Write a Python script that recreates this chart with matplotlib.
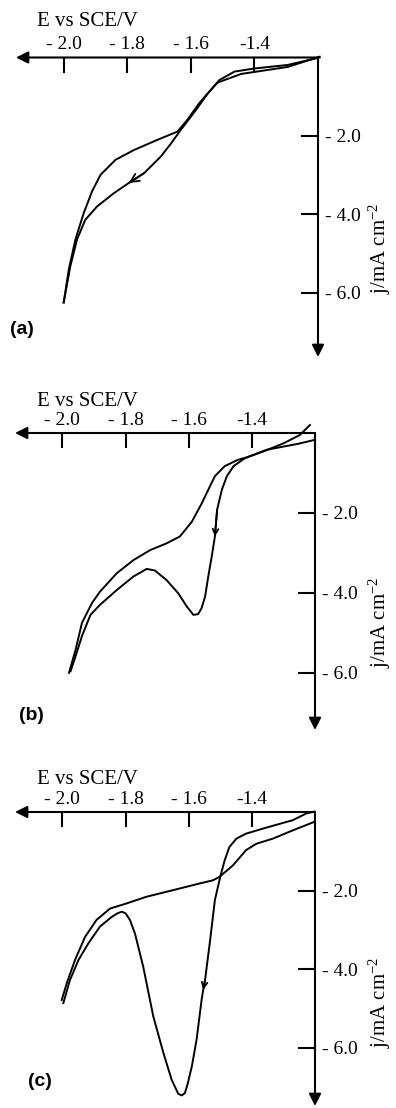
import matplotlib
matplotlib.use("Agg")
import matplotlib.pyplot as plt

plt.rcParams['font.family'] = ['Liberation Serif', 'DejaVu Serif']
plt.rcParams['mathtext.fontset'] = 'custom'
plt.rcParams['mathtext.rm'] = 'Liberation Serif'
plt.rcParams['mathtext.it'] = 'Liberation Serif:italic'

# potentials (V vs SCE) and current densities (mA cm-2)
Ea_fwd = [-1.195, -1.295, -1.442, -1.516, -1.547, -1.584, -1.632, -1.663, -1.695,
          -1.747, -1.795, -1.842, -1.895, -1.932, -1.958, -1.979, -2.0]
ja_fwd = [0.02, -0.24, -0.42, -0.64, -0.92, -1.34, -1.85, -2.20, -2.53,
          -2.95, -3.20, -3.46, -3.80, -4.14, -4.64, -5.32, -6.25]
Ea_rev = [-2.0, -1.984, -1.963, -1.937, -1.911, -1.884, -1.837, -1.779, -1.705,
          -1.642, -1.611, -1.574, -1.542, -1.511, -1.463, -1.4, -1.295, -1.195]
ja_rev = [-6.25, -5.41, -4.64, -3.97, -3.42, -2.99, -2.61, -2.36, -2.10,
          -1.89, -1.59, -1.17, -0.87, -0.58, -0.36, -0.28, -0.19, 0.0]

Eb_fwd = [-1.200, -1.253, -1.300, -1.353, -1.422, -1.458, -1.479, -1.495, -1.510,
          -1.517, -1.527, -1.538, -1.548, -1.559, -1.570, -1.585, -1.606, -1.633,
          -1.670, -1.707, -1.733, -1.775, -1.828, -1.881, -1.911, -1.938, -1.958,
          -1.974]
jb_fwd = [-0.17, -0.27, -0.34, -0.42, -0.63, -0.83, -1.08, -1.42, -1.92,
          -2.59, -3.09, -3.59, -4.09, -4.38, -4.53, -4.55, -4.34, -4.01,
          -3.68, -3.44, -3.40, -3.59, -3.93, -4.30, -4.55, -5.08, -5.58,
          -5.96]
Eb_rev = [-1.979, -1.958, -1.938, -1.906, -1.881, -1.828, -1.775, -1.722, -1.670,
          -1.628, -1.590, -1.558, -1.538, -1.517, -1.486, -1.444, -1.416, -1.360,
          -1.300, -1.248, -1.216]
jb_rev = [-6.0, -5.42, -4.75, -4.25, -3.97, -3.51, -3.18, -2.93, -2.76,
          -2.59, -2.22, -1.75, -1.42, -1.08, -0.83, -0.67, -0.61, -0.45,
          -0.26, -0.05, 0.20]

Ec_fwd = [-1.202, -1.228, -1.271, -1.355, -1.418, -1.449, -1.471, -1.486, -1.500,
          -1.517, -1.532, -1.548, -1.554, -1.559, -1.575, -1.590, -1.604, -1.612,
          -1.622, -1.633, -1.654, -1.680, -1.712, -1.744, -1.770, -1.786, -1.800,
          -1.812, -1.825, -1.845, -1.881, -1.918, -1.949, -1.976, -1.997]
jc_fwd = [0.01, -0.04, -0.21, -0.40, -0.55, -0.68, -0.89, -1.23, -1.65,
          -2.24, -3.26, -4.27, -4.53, -4.78, -5.80, -6.48, -6.95, -7.16,
          -7.22, -7.18, -6.82, -6.14, -5.21, -3.94, -3.10, -2.75, -2.58,
          -2.54, -2.58, -2.68, -2.92, -3.35, -3.77, -4.28, -4.87]
Ec_rev = [-2.002, -1.986, -1.960, -1.928, -1.892, -1.849, -1.797, -1.734, -1.649,
          -1.565, -1.523, -1.502, -1.460, -1.418, -1.386, -1.334, -1.271, -1.202]
jc_rev = [-4.79, -4.36, -3.77, -3.18, -2.75, -2.46, -2.33, -2.16, -1.99,
          -1.82, -1.74, -1.65, -1.36, -0.97, -0.81, -0.68, -0.47, -0.25]

x_ticks = [-2.0, -1.8, -1.6, -1.4]
x_labels = ['- 2.0', '- 1.8', '- 1.6', '-1.4']
y_ticks = [-2.0, -4.0, -6.0]
y_labels = ['- 2.0', '- 4.0', '- 6.0']

panels = [
    # fwd E, fwd j, rev E, rev j, arrow index, letter, pixel box, j at bottom,
    # y of x-title, y of j-title, letter x/y, arrow size
    (Ea_fwd, ja_fwd, Ea_rev, ja_rev, 10, '(a)', (16, 318, 57.5, 357), -7.64, 22, 248, 22, 330, 15),
    (Eb_fwd, jb_fwd, Eb_rev, jb_rev, 9, '(b)', (15, 315, 433, 730), -7.43, 402, 622, 31, 715, 10),
    (Ec_fwd, jc_fwd, Ec_rev, jc_rev, 12, '(c)', (15, 315, 812, 1106), -7.49, 780, 1002, 40, 1081, 10),
]

W, H = 396, 1108
fig = plt.figure(figsize=(W / 100, H / 100), dpi=100)

for Ef, jf, Er, jr, ai, letter, box, jmin, ey, jy, lx, ly, ams in panels:
    l, r, t, b = box
    ax = fig.add_axes([l / W, 1 - b / H, (r - l) / W, (b - t) / H])
    ax.plot(Ef, jf, color='black', lw=1.4, solid_joinstyle='round', clip_on=False)
    ax.plot(Er, jr, color='black', lw=1.4, solid_joinstyle='round', clip_on=False)
    ax.set_xlim(-2.15, -1.2)
    ax.set_ylim(jmin, 0)
    for s in ax.spines.values():
        s.set_visible(False)
    ax.xaxis.set_ticks_position('top')
    ax.yaxis.set_ticks_position('right')
    ax.set_xticks(x_ticks, x_labels)
    ax.set_yticks(y_ticks, y_labels)
    ax.tick_params(axis='x', direction='in', length=11, width=1.5, pad=3, labelsize=14)
    ax.tick_params(axis='y', direction='in', length=12, width=1.5, pad=5, labelsize=14)
    # axis lines with arrow heads
    ax.annotate('', xy=(0, 1), xytext=(1, 1), xycoords='axes fraction',
                arrowprops=dict(arrowstyle='-|>', lw=1.5, color='black',
                                mutation_scale=18, shrinkA=0, shrinkB=0))
    ax.annotate('', xy=(1, 0), xytext=(1, 1), xycoords='axes fraction',
                arrowprops=dict(arrowstyle='-|>', lw=1.5, color='black',
                                mutation_scale=18, shrinkA=0, shrinkB=0))
    # scan direction arrow on the forward curve
    ax.annotate('', xy=(Ef[ai], jf[ai]), xytext=(Ef[ai - 1], jf[ai - 1]),
                arrowprops=dict(arrowstyle='->', lw=1.3, color='black',
                                mutation_scale=ams, shrinkA=0, shrinkB=0))
    fig.text(87 / W, 1 - ey / H, 'E vs SCE/V', fontsize=15, ha='center', va='center')
    fig.text(380 / W, 1 - jy / H, 'j/mA cm$^{-2}$', fontsize=15, rotation=90,
             ha='center', va='center')
    fig.text(lx / W, 1 - ly / H, letter, fontsize=14, fontweight='bold',
             family='Liberation Sans', ha='center', va='center')

fig.savefig('out.png', dpi=100)
